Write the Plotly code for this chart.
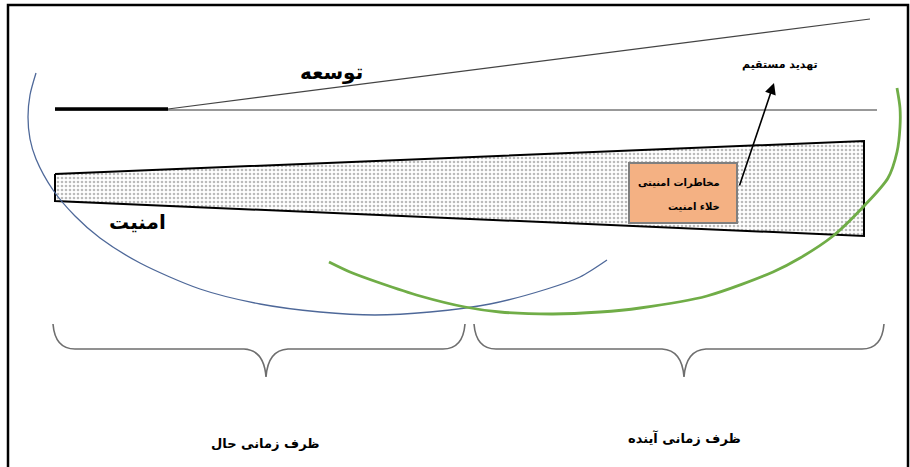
import plotly.graph_objects as go

# ---- diagram data (pixel-space coordinates of the schematic) ----
frame = [8, 5, 908, 480]
growth_base_x = [55, 168]
growth_base_y = [109, 109]
growth_slope_x = [168, 870]
growth_slope_y = [109, 19]
ref_line_x = [55, 877]
ref_line_y = [110, 110]

band_x = [55, 864, 864, 55, 55]
band_y = [174, 141, 236, 201, 174]

blue_x = [36, 30, 28, 30, 36, 53, 75, 100, 140, 200, 260, 320, 375, 430, 490, 547, 580, 607]
blue_y = [73, 95, 117, 139, 159, 190, 216, 238, 263, 289, 304, 312, 315, 312, 304, 289, 277, 260]

green_x = [897, 900, 900, 897, 888, 865, 833, 800, 773, 707, 640, 600, 553, 500, 465, 420, 380, 350, 329]
green_y = [88, 108, 127, 152, 178, 205, 236, 258, 272, 296, 308, 312, 314, 312, 307, 296, 283, 272, 262]

box = [629, 163, 737, 223]
arrow_tail = (739, 187)
arrow_head = (774, 83)

# (left, cusp, right, top, middle, bottom)
braces = [(53, 266, 465, 324, 349, 377), (474, 684, 884, 324, 349, 377)]

labels = [
    ("توسعه", 331, 72, 20),
    ("امنیت", 137, 222, 20),
    ("تهدید مستقیم", 780, 64, 11),
    ("ظرف زمانی حال", 265, 443, 13),
    ("ظرف زمانی آینده", 684, 438, 13),
]
box_lines = [("مخاطرات امنیتی", 722, 183), ("خلاء امنیت", 722, 206)]

FONT = "DejaVu Sans"

fig = go.Figure()

# dotted band
fig.add_trace(go.Scatter(
    x=band_x, y=band_y, mode="lines", fill="toself",
    line=dict(color="black", width=2),
    fillcolor="white",
    fillpattern=dict(shape=".", size=4, solidity=0.35, fgcolor="#777777", bgcolor="white"),
    hoverinfo="skip", showlegend=False))

# growth lines
fig.add_trace(go.Scatter(x=ref_line_x, y=ref_line_y, mode="lines",
                         line=dict(color="#333333", width=1), hoverinfo="skip", showlegend=False))
fig.add_trace(go.Scatter(x=growth_slope_x, y=growth_slope_y, mode="lines",
                         line=dict(color="#444444", width=1.2), hoverinfo="skip", showlegend=False))
fig.add_trace(go.Scatter(x=growth_base_x, y=growth_base_y, mode="lines",
                         line=dict(color="black", width=3.5), hoverinfo="skip", showlegend=False))

# arcs
fig.add_trace(go.Scatter(x=blue_x, y=blue_y, mode="lines",
                         line=dict(color="#4E6899", width=1.3, shape="spline", smoothing=0.8),
                         hoverinfo="skip", showlegend=False))
fig.add_trace(go.Scatter(x=green_x, y=green_y, mode="lines",
                         line=dict(color="#70AD47", width=2.8, shape="spline", smoothing=0.8),
                         hoverinfo="skip", showlegend=False))

shapes = []
# frame
shapes.append(dict(type="rect", xref="x", yref="y", x0=frame[0], y0=frame[1], x1=frame[2], y1=frame[3],
                   line=dict(color="black", width=2.5), fillcolor="rgba(0,0,0,0)"))
# orange box
shapes.append(dict(type="rect", xref="x", yref="y", x0=box[0], y0=box[1], x1=box[2], y1=box[3],
                   line=dict(color="#7F7F7F", width=2), fillcolor="#F4B183", layer="above"))
# braces
for (xl, xc, xr, yt, ym, yb) in braces:
    r = 22
    p = (f"M {xl},{yt} Q {xl+2},{ym} {xl+r},{ym} L {xc-r},{ym} "
         f"Q {xc-2},{ym+1} {xc},{yb} Q {xc+2},{ym+1} {xc+r},{ym} "
         f"L {xr-r},{ym} Q {xr-2},{ym} {xr},{yt}")
    shapes.append(dict(type="path", xref="x", yref="y", path=p,
                       line=dict(color="#6E6E6E", width=1.6)))

annotations = []
for (t, x, y, s) in labels:
    annotations.append(dict(x=x, y=y, xref="x", yref="y", text=f"<b>{t}</b>", showarrow=False,
                            font=dict(family=FONT, size=s, color="black"), xanchor="center", yanchor="middle"))
for (t, x, y) in box_lines:
    annotations.append(dict(x=x, y=y, xref="x", yref="y", text=f"<b>{t}</b>", showarrow=False,
                            font=dict(family=FONT, size=10, color="black"), xanchor="right", yanchor="middle"))
annotations.append(dict(x=arrow_head[0], y=arrow_head[1], ax=arrow_tail[0], ay=arrow_tail[1],
                        xref="x", yref="y", axref="x", ayref="y", text="", showarrow=True,
                        arrowhead=2, arrowsize=1.4, arrowwidth=1.6, arrowcolor="black"))

fig.update_layout(
    width=910, height=467, margin=dict(l=0, r=0, t=0, b=0),
    paper_bgcolor="white", plot_bgcolor="white",
    xaxis=dict(range=[0, 910], visible=False, fixedrange=True),
    yaxis=dict(range=[467, 0], visible=False, fixedrange=True),
    shapes=shapes, annotations=annotations, showlegend=False,
)

fig.write_html("out.html",
               config={"displayModeBar": False},
               post_script="document.body.style.margin='0';document.body.style.overflow='hidden';")
